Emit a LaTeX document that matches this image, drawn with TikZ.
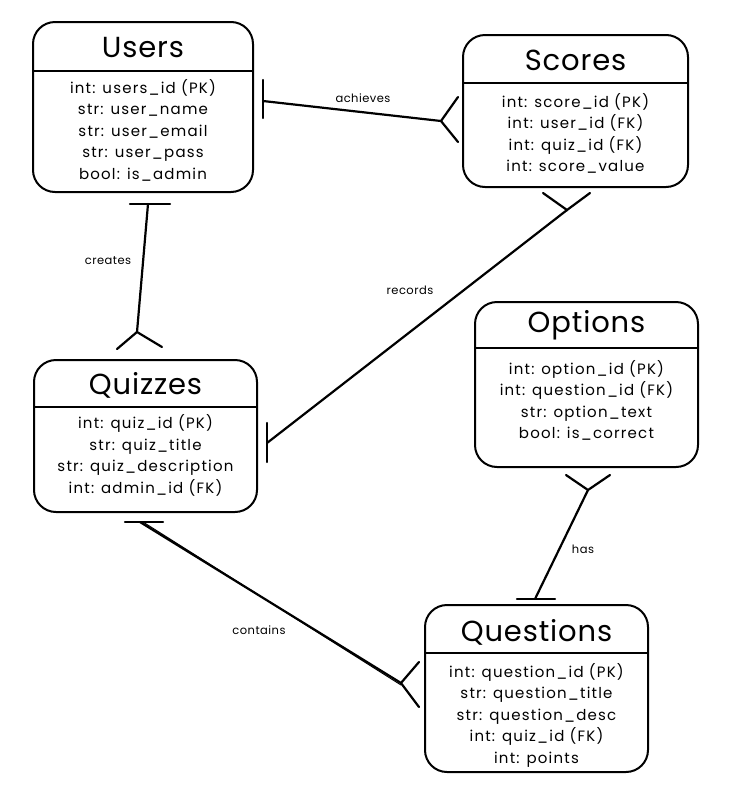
\documentclass[tikz,border=0pt]{standalone}
\usepackage{fontspec}
\setmainfont{Poppins}
\newfontfamily\fldfont[LetterSpace=8]{Poppins}
\newfontfamily\ttlfont[LetterSpace=3]{Poppins}
\newfontfamily\lblfont[LetterSpace=4]{Poppins}
\begin{document}
\begin{tikzpicture}[x=1pt,y=-1pt,
  tbl/.style={draw, line width=2pt, rounded corners=22pt, inner sep=0pt},
  ttl/.style={font=\ttlfont\fontsize{29}{30}\selectfont, inner sep=0pt},
  flds/.style={font=\fldfont\fontsize{15}{21.5}\selectfont, align=center, inner sep=0pt},
  lbl/.style={font=\lblfont\fontsize{11.5}{13}\selectfont, inner sep=1pt},
  conn/.style={line width=2.2pt, line cap=round},
  div/.style={line width=2.6pt}
]
\fill[white] (0,0) rectangle (741,785);
\useasboundingbox (0,0) rectangle (741,785);

% Users
\node[tbl, minimum width=220pt, minimum height=170pt] (users) at (143,107) {};
\node[ttl] (usersT) at (143,48) {Users};
\coordinate (usersD) at (143,71);
\draw[div] (users.west |- usersD) -- (users.east |- usersD);
\node[flds] (usersF) at (143,130) {int: users\_id (PK)\\str: user\_name\\str: user\_email\\str: user\_pass\\bool: is\_admin};

% Scores
\node[tbl, minimum width=225pt, minimum height=152pt] (scores) at (575.5,111) {};
\node[ttl] (scoresT) at (575.5,60) {Scores};
\coordinate (scoresD) at (575.5,83);
\draw[div] (scores.west |- scoresD) -- (scores.east |- scoresD);
\node[flds] (scoresF) at (575.5,133.5) {int: score\_id (PK)\\int: user\_id (FK)\\int: quiz\_id (FK)\\int: score\_value};

% Quizzes
\node[tbl, minimum width=223pt, minimum height=152pt] (quizzes) at (145.5,436) {};
\node[ttl] (quizzesT) at (145.5,385) {Quizzes};
\coordinate (quizzesD) at (145.5,407);
\draw[div] (quizzes.west |- quizzesD) -- (quizzes.east |- quizzesD);
\node[flds] (quizzesF) at (145.5,455.5) {int: quiz\_id (PK)\\str: quiz\_title\\str: quiz\_description\\int: admin\_id (FK)};

% Options
\node[tbl, minimum width=223pt, minimum height=165pt] (options) at (586.5,384.5) {};
\node[ttl] (optionsT) at (586.5,325) {Options};
\coordinate (optionsD) at (586.5,348);
\draw[div] (options.west |- optionsD) -- (options.east |- optionsD);
\node[flds] (optionsF) at (586.5,400.5) {int: option\_id (PK)\\int: question\_id (FK)\\str: option\_text\\bool: is\_correct};

% Questions
\node[tbl, minimum width=223pt, minimum height=167pt] (questions) at (536.5,688.5) {};
\node[ttl] (questionsT) at (536.5,632) {Questions};
\coordinate (questionsD) at (536.5,653);
\draw[div] (questions.west |- questionsD) -- (questions.east |- questionsD);
\node[flds] (questionsF) at (536.5,715) {int: question\_id (PK)\\str: question\_title\\str: question\_desc\\int: quiz\_id (FK)\\int: points};

% achieves: Users -> Scores
\coordinate (a1) at (263,101);
\coordinate (a2) at (441,121);
\draw[conn] (263,80) -- (263,118);
\draw[conn] (a1) -- (a2);
\draw[conn] (458,97) -- (a2) -- (458,142);
\node[lbl] (achL) at (363,98) {achieves};

% creates: Users -> Quizzes
\coordinate (c1) at (148,204);
\coordinate (c2) at (137,332);
\draw[conn] (130,204) -- (170,204);
\draw[conn] (c1) -- (c2);
\draw[conn] (117,349) -- (c2) -- (162,347);
\node[lbl] (creL) at (108,261) {creates};

% records: Scores -> Quizzes
\coordinate (r1) at (567,210);
\coordinate (r2) at (267,443);
\draw[conn] (543,193) -- (r1) -- (590,193);
\draw[conn] (r1) -- (r2);
\draw[conn] (267,423) -- (267,462);
\node[lbl] (recL) at (410,290) {records};

% contains: Quizzes -> Questions
\coordinate (k1) at (140,522);
\coordinate (k2) at (401,683);
\draw[conn] (125,522) -- (163,522);
\draw[conn] (k1) -- (k2);
\draw[line width=1pt] ([xshift=3pt]k1) -- ([yshift=-2pt]k2);
\draw[conn] (419,662) -- (k2) -- (419,707);
\node[lbl] (conL) at (259,630) {contains};

% has: Options -> Questions
\coordinate (h1) at (588,490);
\coordinate (h2) at (535,599);
\draw[conn] (566,475) -- (h1) -- (610,475);
\draw[conn] (h1) -- (h2);
\draw[conn] (517,599) -- (555,599);
\node[lbl] (hasL) at (583,549) {has};
\end{tikzpicture}
\end{document}
